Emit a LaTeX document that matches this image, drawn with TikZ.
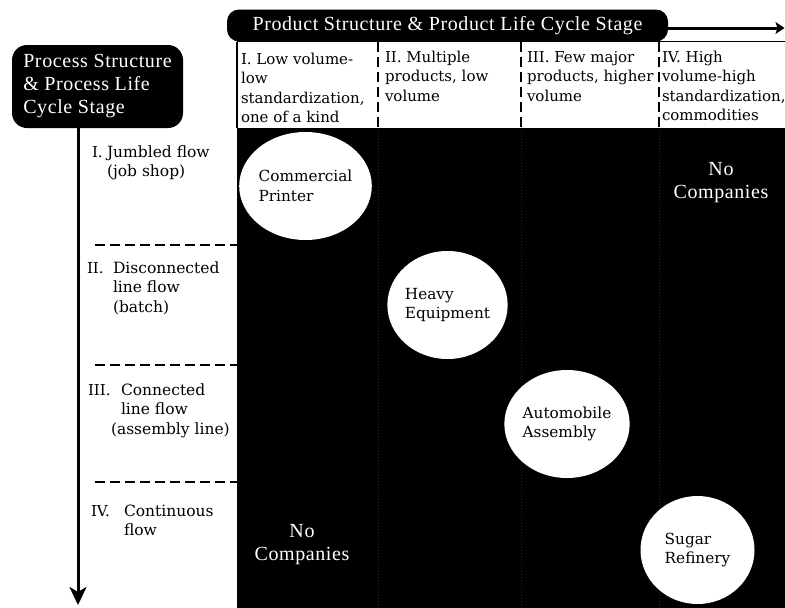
\documentclass[tikz,border=0pt]{standalone}
\usepackage{fontspec}
\setmainfont{DejaVu Serif}
\newfontfamily\headfont[LetterSpace=3]{Liberation Serif}
\usetikzlibrary{positioning,arrows.meta,shapes.geometric}

\begin{document}
\begin{tikzpicture}[
    x=1pt, y=-1pt,
    every node/.style={inner sep=0pt, outer sep=0pt},
    cell/.style={anchor=base west, align=left, font=\fontsize{15}{19.5}\selectfont},
    rownum/.style={anchor=base west, font=\fontsize{15}{19.5}\selectfont},
    rowtext/.style={anchor=base west, align=left, font=\fontsize{15.5}{19.5}\selectfont},
    headbox/.style={rectangle, fill=black, text=white, align=left,
                    font=\headfont\fontsize{20}{23}\selectfont},
    firm/.style={ellipse, fill=white, minimum width=114pt, minimum height=108pt,
                 align=left, font=\fontsize{15.3}{19.5}\selectfont},
    nocomp/.style={text=white, align=center, font=\headfont\fontsize{20}{23}\selectfont},
    divider/.style={line width=1.6pt, dash pattern=on 10pt off 5pt},
    ghost/.style={gray!30!black, line width=1pt, dotted},
    axisarrow/.style={line width=3pt},
]
\useasboundingbox (0,0) rectangle (785,608);

% Matrix body
\fill[black] (237,128) rectangle (785,608);
\foreach \gx in {378,521,659}
  \draw[ghost] (\gx,130) -- (\gx,608);

% Header cells
\draw[line width=1.2pt] (237,41.5) -- (785,41.5);
\draw[line width=1.2pt] (237,41.5) -- (237,128);
\foreach \gx in {378,521,659}
  \draw[divider, line width=1.4pt] (\gx,42) -- (\gx,128);

% Axis titles
\node[headbox, rounded corners=12pt, minimum width=441pt, minimum height=32pt] (prodhead) at (447.5,25.5)
  {Product Structure \& Product Life Cycle Stage};
\node[headbox, rounded corners=15pt, minimum width=171pt, minimum height=83pt] (prochead) at (97.5,86.5)
  {Process Structure\\\& Process Life\\Cycle Stage};
\coordinate (prodend) at (784.5,28);
\coordinate (procend) at (78,605);

% Axis arrows
\draw[axisarrow, -{Stealth[length=9pt, width=12pt, inset=2pt]}] (prodhead.east |- prodend) -- (prodend);
\draw[axisarrow, -{Stealth[length=18pt, width=17pt, inset=5pt]}] (prochead.south -| procend) -- (procend);

% Product stages (base = last line)
\node[cell] (colI)   at (241,122.5) {I. Low volume-\\low\\standardization,\\one of a kind};
\node[cell] (colII)  at (385,101)   {II. Multiple\\products, low\\volume};
\node[cell] (colIII) at (527,101)   {III. Few major\\products, higher\\volume};
\node[cell] (colIV)  at (662,120.5) {IV. High\\volume-high\\standardization,\\commodities};

% Process stages
\node[rownum] (numI) at (92,157) {I.};
\node[rowtext] (rowI) at (107,176.5) {Jumbled flow\\(job shop)};
\node[rownum] (numII) at (87,273) {II.};
\node[rowtext] (rowII) at (113,312) {Disconnected\\line flow\\(batch)};
\node[rownum] (numIII) at (88,395) {III.};
\node[rowtext] (rowIII) at (121,434) {Connected\\line flow\\\hspace*{-10pt}(assembly line)};
\node[rownum] (numIV) at (91,516) {IV.};
\node[rowtext] (rowIV) at (124,535.5) {Continuous\\flow};

\foreach \gy in {245,365,482}
  \draw[divider] (95,\gy) -- (237,\gy);

% Companies on the diagonal
\node[firm] (printer) at (305.5,186) {Commercial\\Printer};
\node[firm] (heavy)   at (447.5,305) {Heavy\\Equipment};
\node[firm] (auto)    at (567,424)   {Automobile\\Assembly};
\node[firm] (sugar)   at (697.5,550) {Sugar\\Refinery};

\node[nocomp] (noneTR) at (721,183) {No\\Companies};
\node[nocomp] (noneBL) at (302,545) {No\\Companies};

\end{tikzpicture}
\end{document}
